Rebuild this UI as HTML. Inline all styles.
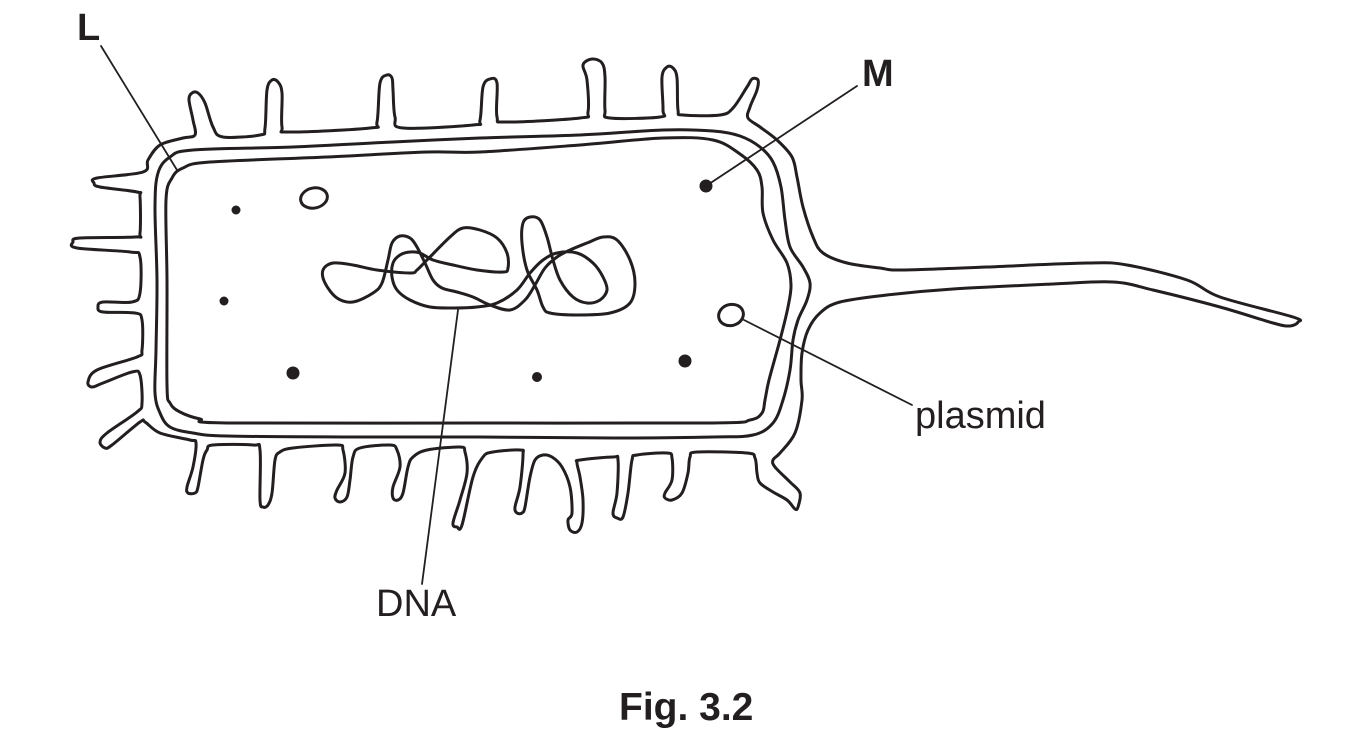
<!DOCTYPE html>
<html>
<head>
<meta charset="utf-8">
<style>
  html, body { margin:0; padding:0; background:#fff; }
  body { width:1354px; height:744px; overflow:hidden; }
  svg { display:block; }
  .o { fill:none; stroke:#231f20; stroke-width:3; stroke-linejoin:round; stroke-linecap:round; }
  .l { fill:none; stroke:#231f20; stroke-width:1.8; stroke-linecap:round; }
  .t { font-family:"Liberation Sans", Arial, sans-serif; fill:#231f20; font-size:38px; }
  .b { font-weight:bold; }
</style>
</head>
<body>
<svg width="1354" height="744" viewBox="0 0 1354 744" xmlns="http://www.w3.org/2000/svg">
  <rect width="1354" height="744" fill="#fff"/>

  <!-- Capsule outline with pili and flagellum -->
  <path class="o s" d="M143,172 L148,160 L160,145 L183,138 L195,135 L193,120 L189,100 L192,93 L198,93 L205,103 L213,127 L223,137 L260,135 L265,128 L267,90 L272,80 L278,82 L282,93 L282,127 L290,132 L370,128 L377,122 L380,83 L387,75 L392,78 L393,90 L395,117 L403,128 L473,125 L480,120 L483,87 L490,79 L497,83 L497,117 L507,122 L580,118 L588,112 L587,80 L583,65 L592,59 L602,63 L605,77 L605,110 L610,118 L660,117 L663,110 L662,77 L667,67 L673,68 L677,78 L678,110 L683,115 L720,115 L733,108 L747,87 L752,79 L758,80 L757,90 L750,107 L748,118 L760,127 L777,140 L792,157 L797,177 L803,207 L813,237 L823,253 L847,263 L880,268 L903,270 L987,267 L1087,263 L1127,265 L1187,280 L1220,297 L1293,317 L1298,322 L1290,326 L1273,323 L1220,307 L1153,290 L1113,282 L1053,284 L953,289 L887,295 L840,302 L820,313 L808,330 L802,353 L801,380 L802,400 L795,433 L780,453 L773,460 L775,467 L790,482 L800,493 L798,507 L795,509 L787,500 L773,492 L760,483 L757,473 L755,458 L747,453 L697,452 L690,457 L688,473 L682,493 L672,500 L665,498 L665,493 L672,480 L672,458 L667,453 L637,455 L632,460 L628,493 L623,517 L617,518 L613,513 L617,493 L618,460 L613,457 L580,460 L577,463 L580,477 L583,500 L582,523 L577,532 L570,530 L568,520 L572,513 L570,487 L562,467 L552,457 L543,455 L535,460 L530,477 L525,507 L522,513 L517,513 L515,507 L520,487 L523,455 L520,450 L493,452 L483,457 L473,477 L462,525 L457,527 L453,523 L460,500 L467,473 L465,452 L460,447 L427,450 L413,457 L408,467 L403,493 L398,500 L393,498 L393,487 L400,467 L397,450 L390,445 L360,448 L353,457 L350,480 L347,497 L340,502 L335,498 L337,490 L345,473 L343,450 L337,445 L293,448 L280,452 L275,460 L272,493 L268,505 L263,507 L260,500 L260,450 L253,445 L213,445 L207,450 L203,460 L198,487 L195,493 L188,493 L187,487 L193,467 L196,443 L190,440 L160,433 L145,422 L140,422 L112,445 L105,448 L100,442 L107,433 L137,412 L142,403 L140,375 L132,372 L103,383 L92,387 L88,382 L97,370 L137,357 L142,350 L142,320 L135,313 L103,312 L98,307 L103,302 L132,302 L140,293 L140,257 L130,252 L77,248 L73,242 L80,238 L135,237 L140,233 L140,197 L137,192 L100,187 L94,183 L97,178 Z"/>

  <!-- Cell wall outer line -->
  <path class="o s" d="M158,173 L155,207 L157,280 L156,350 L155,393 L160,413 L170,427 L193,433 L227,436 L350,437 L480,437 L613,438 L713,437 L753,435 L773,423 L783,400 L790,370 L793,340 L798,320 L807,300 L810,283 L803,267 L790,247 L785,220 L781,187 L773,162 L760,147 L740,136 L713,131 L663,130 L580,135 L480,138 L393,142 L293,147 L193,150 L170,157 Z"/>

  <!-- Cell membrane inner line -->
  <path class="o s" d="M166,200 L167,280 L167,385 L170,403 L180,412 L200,419 L227,423 L480,423 L713,423 L750,420 L762,413 L765,400 L769,380 L780,340 L788,307 L791,285 L787,263 L773,240 L763,213 L762,187 L757,170 L740,154 L713,140 L663,138 L580,145 L480,152 L427,152 L327,157 L210,162 L183,168 L172,178 Z"/>

  <!-- DNA -->
  <path class="o s" d="M323,270 L333,263 L353,265 L377,270 L410,273 L417,270 L427,260 L450,237 L463,228 L480,230 L497,238 L507,253 L508,268 L503,272 L477,270 L453,265 L433,260 L420,253 L410,252 L400,255 L393,263 L392,277 L397,290 L410,300 L430,307 L453,308 L477,307 L497,303 L517,290 L530,273 L543,260 L557,253 L577,253 L593,263 L603,277 L607,290 L600,300 L587,303 L573,297 L560,280 L553,260 L547,237 L540,220 L530,217 L523,223 L522,243 L527,270 L537,290 L543,307 L550,313 L577,315 L610,313 L630,303 L635,283 L630,260 L617,240 L603,237 L587,243 L570,250 L557,257 L545,268 L535,285 L525,300 L510,310 L490,305 L473,297 L457,292 L442,288 L433,280 L425,263 L417,247 L410,238 L400,236 L392,243 L388,260 L382,283 L373,293 L353,302 L337,298 L325,283 Z"/>

  <!-- small oval and plasmid -->
  <ellipse class="o" cx="314" cy="198" rx="13.5" ry="10" transform="rotate(-12 314 198)"/>
  <ellipse class="o" cx="731" cy="315" rx="12.5" ry="10.5" transform="rotate(-15 731 315)"/>

  <!-- dots -->
  <circle cx="236" cy="210" r="4.5" fill="#231f20"/>
  <circle cx="224" cy="301" r="4.5" fill="#231f20"/>
  <circle cx="293" cy="373" r="6.5" fill="#231f20"/>
  <circle cx="537" cy="377" r="5" fill="#231f20"/>
  <circle cx="685" cy="361" r="6.5" fill="#231f20"/>
  <circle cx="706" cy="186" r="6.5" fill="#231f20"/>

  <!-- leader lines -->
  <line class="l" x1="101" y1="46" x2="177" y2="170"/>
  <line class="l" x1="706" y1="186" x2="857" y2="86"/>
  <line class="l" x1="744" y1="320" x2="912" y2="405"/>
  <line class="l" x1="458" y1="310" x2="422" y2="584"/>

  <!-- labels -->
  <text class="t b" x="77" y="40">L</text>
  <text class="t b" x="862" y="86">M</text>
  <text class="t" x="915" y="428">plasmid</text>
  <text class="t" x="376" y="616">DNA</text>
  <text class="t b" x="619" y="720" style="font-size:39px">Fig. 3.2</text>
</svg>
<script>
(function(){
  var paths = document.querySelectorAll('path.s');
  for (var k = 0; k < paths.length; k++) {
    var p = paths[k];
    var d = p.getAttribute('d');
    var nums = d.match(/-?\d+(\.\d+)?/g);
    if (!nums) continue;
    var pts = [];
    for (var i = 0; i + 1 < nums.length; i += 2) pts.push([+nums[i], +nums[i+1]]);
    var n = pts.length;
    if (n < 3) continue;
    var out = 'M' + pts[0][0] + ',' + pts[0][1];
    for (var i = 0; i < n; i++) {
      var p0 = pts[(i - 1 + n) % n], p1 = pts[i], p2 = pts[(i + 1) % n], p3 = pts[(i + 2) % n];
      var c1x = p1[0] + (p2[0] - p0[0]) / 6, c1y = p1[1] + (p2[1] - p0[1]) / 6;
      var c2x = p2[0] - (p3[0] - p1[0]) / 6, c2y = p2[1] - (p3[1] - p1[1]) / 6;
      out += ' C' + c1x.toFixed(1) + ',' + c1y.toFixed(1) + ' ' + c2x.toFixed(1) + ',' + c2y.toFixed(1) + ' ' + p2[0] + ',' + p2[1];
    }
    out += ' Z';
    p.setAttribute('d', out);
  }
})();
</script>
</body>
</html>
